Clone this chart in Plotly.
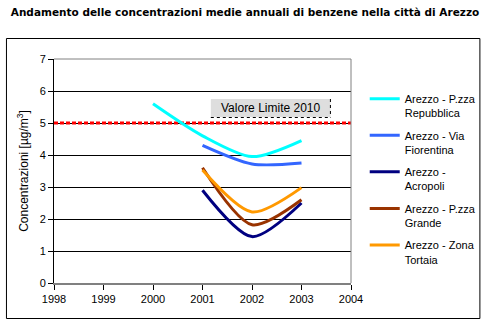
import plotly.graph_objects as go

years = [2000, 2001, 2002, 2003]
names = ["Arezzo - P.zza<br>Repubblica", "Arezzo - Via<br>Fiorentina", "Arezzo -<br>Acropoli",
         "Arezzo - P.zza<br>Grande", "Arezzo - Zona<br>Tortaia"]
repubblica = [5.6, 4.6, 3.95, 4.45]
fiorentina = [None, 4.3, 3.72, 3.75]
acropoli = [None, 2.9, 1.45, 2.5]
grande = [None, 3.6, 1.82, 2.6]
tortaia = [None, 3.53, 2.22, 2.98]
colors = ["#00FFFF", "#3366FF", "#000080", "#993300", "#FF9900"]
limit_years = [1998, 2004]
limit_value = [5.0, 5.0]

series = [repubblica, fiorentina, acropoli, grande, tortaia]

fig = go.Figure()
fig.add_trace(go.Scatter(x=limit_years, y=limit_value, mode="lines", showlegend=False,
                         line=dict(color="#FF0000", width=3, dash="4px,2px"), hoverinfo="skip"))
for i, (nm, vals, c) in enumerate(zip(names, series, colors)):
    xs = [x for x, v in zip(years, vals) if v is not None]
    ys = [v for v in vals if v is not None]
    fig.add_trace(go.Scatter(x=xs, y=ys, mode="lines", name=nm, legendgroup=str(i),
                             line=dict(color=c, width=3, shape="spline", smoothing=0.8)))

L, R, T, B = 54, 357, 59, 283
W, H = 493, 325
pw, ph = R - L, B - T

def px(x):
    return (x - L) / pw

def py(y):
    return (B - y) / ph

fig.update_layout(
    width=W, height=H,
    margin=dict(l=L, r=W - R, t=T, b=H - B),
    paper_bgcolor="white", plot_bgcolor="white",
    font=dict(family="Liberation Sans, Arial", size=11, color="black"),
    title=dict(text="<b>Andamento delle concentrazioni medie annuali di benzene nella città di Arezzo</b>",
               font=dict(family="DejaVu Sans", size=10.5, color="black"),
               x=245 / W, xref="container", xanchor="center", y=1 - 12 / H, yanchor="middle"),
    xaxis=dict(range=[1998, 2004], dtick=1, tick0=1998, showgrid=False, zeroline=False,
               showline=True, linecolor="#808080", linewidth=2,
               ticks="outside", ticklen=5, tickcolor="black",
               tickfont=dict(size=11)),
    yaxis=dict(range=[0, 7], dtick=1, showgrid=True, gridcolor="black", gridwidth=1,
               zeroline=False, showline=True, linecolor="black", linewidth=1,
               ticks="outside", ticklen=5, tickcolor="black",
               tickfont=dict(size=11),
               title=dict(text="Concentrazioni [µg/m<sup>3</sup>]", font=dict(size=12), standoff=8)),
    legend=dict(x=px(371), y=py(85), xanchor="left", yanchor="top",
                font=dict(size=11), valign="top", tracegroupgap=5,
                bgcolor="rgba(0,0,0,0)", itemwidth=30),
    showlegend=True,
)

# plot area borders (top, right)
fig.add_shape(type="line", xref="paper", yref="paper", x0=0, x1=1, y0=1, y1=1,
              line=dict(color="#808080", width=1))
fig.add_shape(type="line", xref="paper", yref="paper", x0=1, x1=1, y0=0, y1=1,
              line=dict(color="#808080", width=1))
# outer frame
fig.add_shape(type="rect", xref="paper", yref="paper",
              x0=px(5.5), x1=px(488.5), y0=py(318.5), y1=py(38.5),
              line=dict(color="black", width=1), layer="above")

# annotation box
fig.add_shape(type="rect", xref="paper", yref="paper",
              x0=px(214), x1=px(336), y0=py(117), y1=py(99),
              fillcolor="#DEDEDE", line=dict(width=0), layer="below")
fig.add_shape(type="line", xref="paper", yref="paper",
              x0=px(214), x1=px(336), y0=py(117.5), y1=py(117.5),
              line=dict(color="black", width=1, dash="dot"))
fig.add_shape(type="line", xref="paper", yref="paper",
              x0=px(336), x1=px(336), y0=py(99), y1=py(117.5),
              line=dict(color="black", width=1, dash="dot"))
fig.add_annotation(text="Valore Limite 2010", xref="paper", yref="paper",
                   x=px(275), y=py(108), xanchor="center", yanchor="middle", showarrow=False,
                   font=dict(size=12, family="Liberation Sans, Arial"))

fig.write_html("out.html")
